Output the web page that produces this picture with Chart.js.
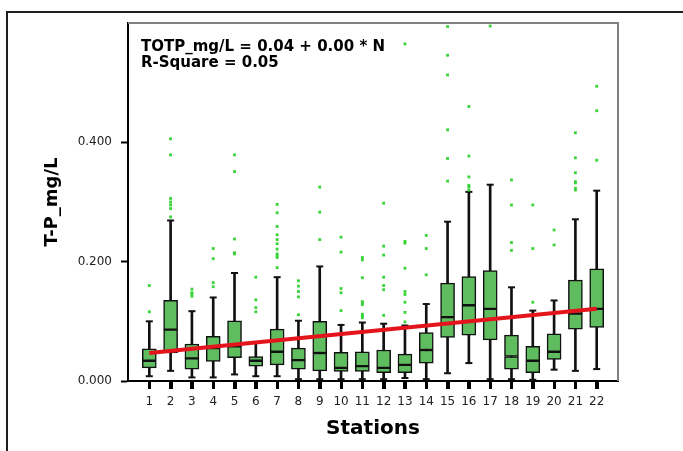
<!DOCTYPE html>
<html><head><meta charset="utf-8">
<script src="https://cdn.jsdelivr.net/npm/chart.js@4/dist/chart.umd.min.js"></script>
<style>
html,body{margin:0;padding:0;background:#fff;}
#wrap{position:relative;width:683px;height:451px;overflow:hidden;background:#fff;}
#frame{position:absolute;left:6px;top:11px;width:760px;height:520px;border-left:2px solid #1e1e1e;border-top:2px solid #1e1e1e;}
canvas{position:absolute;left:0;top:0;}
</style></head><body>
<div id="wrap"><div id="frame"></div><canvas id="c" width="683" height="451"></canvas></div>
<script>
// ---- data (T-P mg/L by station) ----
const stations = [1,2,3,4,5,6,7,8,9,10,11,12,13,14,15,16,17,18,19,20,21,22];
const whiskerLow  = [0.008,0.017,0.006,0.006,0.011,0.008,0.008,0.003,0.003,0.003,0.003,0.003,0.005,0.003,0.013,0.030,0.003,0.003,0.002,0.019,0.017,0.020];
const q1          = [0.022,0.047,0.020,0.033,0.039,0.025,0.027,0.020,0.017,0.016,0.016,0.014,0.014,0.030,0.073,0.077,0.069,0.020,0.014,0.036,0.087,0.090];
const median      = [0.034,0.086,0.038,0.055,0.058,0.034,0.049,0.035,0.047,0.022,0.025,0.022,0.027,0.052,0.107,0.127,0.121,0.041,0.034,0.049,0.113,0.121];
const q3          = [0.054,0.135,0.062,0.075,0.101,0.041,0.087,0.055,0.100,0.048,0.049,0.052,0.045,0.081,0.164,0.175,0.185,0.077,0.058,0.079,0.169,0.188];
const whiskerHigh = [0.100,0.269,0.117,0.140,0.181,0.064,0.174,0.101,0.192,0.094,0.098,0.096,0.093,0.129,0.267,0.317,0.329,0.157,0.118,0.135,0.271,0.319];
const outliers = [
  [0.116,0.160],
  [0.275,0.289,0.295,0.300,0.306,0.379,0.406],
  [0.142,0.146,0.148,0.154],
  [0.158,0.165,0.205,0.222],
  [0.213,0.215,0.238,0.351,0.379],
  [0.116,0.123,0.136,0.174],
  [0.190,0.207,0.210,0.213,0.221,0.230,0.237,0.245,0.259,0.282,0.296],
  [0.111,0.141,0.150,0.159,0.168],
  [0.237,0.283,0.325],
  [0.118,0.148,0.155,0.216,0.241],
  [0.106,0.109,0.112,0.128,0.131,0.133,0.173,0.203,0.207],
  [0.110,0.153,0.160,0.174,0.211,0.226,0.298],
  [0.099,0.115,0.132,0.145,0.150,0.189,0.231,0.234,0.565],
  [0.178,0.222,0.244],
  [0.335,0.373,0.421,0.513,0.546,0.594],
  [0.320,0.325,0.328,0.342,0.377,0.460],
  [0.595],
  [0.219,0.232,0.295,0.337],
  [0.132,0.222,0.295],
  [0.228,0.253],
  [0.320,0.323,0.332,0.334,0.349,0.374,0.416],
  [0.370,0.453,0.494]
];
const fitX = [1, 22];
const fitY = [0.047, 0.121];
const yTicks = [0, 0.2, 0.4];
const equationText = 'TOTP_mg/L = 0.04 + 0.00 * N';
const rSquareText = 'R-Square = 0.05';
const xTitle = 'Stations';
const yTitle = 'T-P_mg/L';

// ---- build datasets ----
const boxFill = '#5fbd5f';
const lowerBox = stations.map((s,i)=>({x:s, y:[q1[i], median[i]]}));
const upperBox = stations.map((s,i)=>({x:s, y:[median[i], q3[i]]}));
const whisk = stations.map((s,i)=>({x:s, y:[whiskerLow[i], whiskerHigh[i]]}));
const caps = [];
stations.forEach((s,i)=>{ caps.push({x:s,y:whiskerLow[i]}); caps.push({x:s,y:whiskerHigh[i]}); });
const outPts = [];
stations.forEach((s,i)=>outliers[i].forEach(v=>outPts.push({x:s,y:v})));
const fitPts = fitX.map((x,i)=>({x:x, y:fitY[i]}));

const decor = {
  id: 'decor',
  afterDraw(chart){
    const ctx = chart.ctx, a = chart.chartArea, xs = chart.scales.x;
    ctx.save();
    // plot frame (top / right)
    ctx.strokeStyle = '#808080';
    ctx.lineWidth = 2;
    ctx.beginPath();
    ctx.moveTo(a.left, a.top); ctx.lineTo(a.right, a.top); ctx.lineTo(a.right, a.bottom);
    ctx.stroke();
    // x tick marks at each station
    ctx.strokeStyle = '#000';
    ctx.lineWidth = 3;
    ctx.beginPath();
    stations.forEach(s=>{
      const px = Math.round(xs.getPixelForValue(s)) + 0.5;
      ctx.moveTo(px, a.bottom); ctx.lineTo(px, a.bottom + 8);
    });
    ctx.stroke();
    // regression annotation
    ctx.fillStyle = '#000';
    ctx.font = 'bold 15px "DejaVu Sans"';
    ctx.textBaseline = 'alphabetic';
    ctx.textAlign = 'left';
    ctx.fillText(equationText, a.left + 13, a.top + 28);
    ctx.fillText(rSquareText, a.left + 13, a.top + 44);
    ctx.restore();
  }
};

new Chart(document.getElementById('c'), {
  type: 'bar',
  data: {
    datasets: [
      {type:'line', data: fitPts, borderColor:'#e3141b', borderWidth:4, pointRadius:0, order:0, clip:false},
      {type:'scatter', data: outPts, pointStyle:'rect', pointRadius:2, backgroundColor:'#39d439', borderWidth:0, order:1, clip:false},
      {type:'bar', data: upperBox, backgroundColor: boxFill, borderColor:'#111', borderWidth:1.5, borderSkipped:false, barThickness:14, grouped:false, order:2},
      {type:'bar', data: lowerBox, backgroundColor: boxFill, borderColor:'#111', borderWidth:1.5, borderSkipped:false, barThickness:14, grouped:false, order:2},
      {type:'scatter', data: caps, pointStyle:'line', pointRadius:3.5, borderColor:'#111', borderWidth:2, order:3, clip:false},
      {type:'bar', data: whisk, backgroundColor:'#111', borderWidth:0, barThickness:2, grouped:false, order:4}
    ]
  },
  options: {
    responsive: false,
    animation: false,
    devicePixelRatio: 1,
    layout: {padding: {left: 8, top: 23, right: 65, bottom: 0}},
    plugins: {legend:{display:false}, tooltip:{enabled:false}},
    scales: {
      x: {
        type: 'linear', min: 0, max: 23, offset: false,
        afterFit(s){ s.height = 70; },
        afterBuildTicks(s){ s.ticks = stations.map(v=>({value:v})); },
        grid: {offset:false, drawOnChartArea:false, drawTicks:true, tickLength:8, tickWidth:3, tickColor:'#000'},
        border: {display:true, color:'#000', width:2},
        ticks: {autoSkip:false, maxRotation:0, padding:6, color:'#222', font:{family:'"DejaVu Sans"', size:12},
                callback(v){ return String(v); }},
        title: {display:true, text:xTitle, color:'#000', font:{family:'"DejaVu Sans"', size:20, weight:'bold'}, padding:{top:0, bottom:10}}
      },
      y: {
        type: 'linear', min: 0, max: 0.6,
        afterFit(s){ s.width = 120; },
        afterBuildTicks(s){ s.ticks = yTicks.map(v=>({value:v})); },
        grid: {drawOnChartArea:false, drawTicks:true, tickLength:7, tickWidth:2, tickColor:'#000'},
        border: {display:true, color:'#000', width:2},
        ticks: {padding:9, color:'#222', font:{family:'"DejaVu Sans"', size:12},
                callback(v){ return Number(v).toFixed(3); }},
        title: {display:true, text:yTitle, color:'#000', font:{family:'"DejaVu Sans"', size:18, weight:'bold'}, padding:{top:34, bottom:0}}
      }
    }
  },
  plugins: [decor]
});
</script>
</body></html>
